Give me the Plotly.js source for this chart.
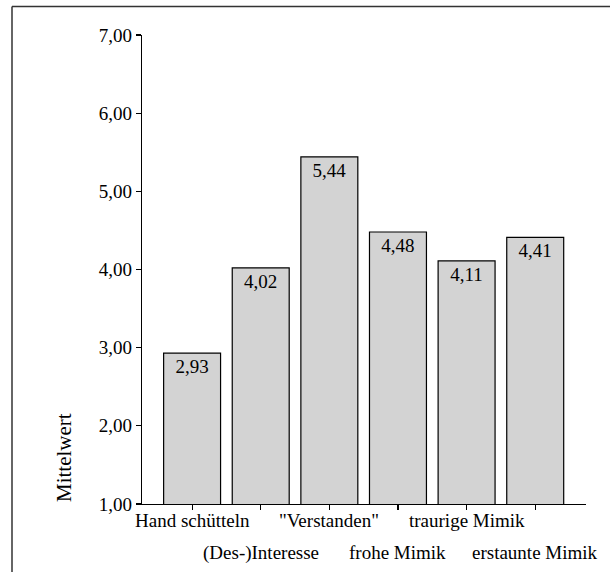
<!DOCTYPE html>
<html>
<head>
<meta charset="utf-8">
<script src="https://cdn.plot.ly/plotly-3.0.1.min.js"></script>
<style>body{margin:0;padding:0;background:#fff;overflow:hidden;} #chart{width:614px;height:576px;}</style>
</head>
<body>
<div id="chart"></div>
<script>
var categories = ["Hand schütteln", "(Des-)Interesse", "\"Verstanden\"", "frohe Mimik", "traurige Mimik", "erstaunte Mimik"];
var values = [2.93, 4.02, 5.44, 4.48, 4.11, 4.41];
var labelRow = [0, 1, 0, 1, 0, 1];
var yTicks = [1, 2, 3, 4, 5, 6, 7];
var yTitle = "Mittelwert";

var FONT = "Liberation Serif";

var trace = {
  type: "bar",
  x: categories,
  y: values,
  width: 0.83,
  marker: {color: "#d3d3d3", line: {color: "#000", width: 1.2}},
  texttemplate: "%{y:.2f}",
  textposition: "inside",
  insidetextanchor: "end",
  constraintext: "none",
  textangle: 0,
  insidetextfont: {family: FONT, size: 19, color: "#000"},
  hoverinfo: "none"
};

var annotations = categories.map(function (c, i) {
  return {
    x: c, xref: "x", yref: "paper",
    y: labelRow[i] === 0 ? -0.036 : -0.104,
    yanchor: "middle", xanchor: "center",
    text: c, showarrow: false,
    font: {family: FONT, size: 19, color: "#000"}
  };
});
annotations.push({
  xref: "paper", yref: "paper",
  x: (64 - 142) / 444, y: (504 - 458) / 469,
  xanchor: "center", yanchor: "middle",
  text: yTitle, textangle: -90, showarrow: false,
  font: {family: FONT, size: 21, color: "#000"}
});

var layout = {
  width: 614, height: 576,
  margin: {l: 142, r: 28, t: 35, b: 72},
  paper_bgcolor: "#fff", plot_bgcolor: "#fff",
  separators: ",.",
  showlegend: false,
  font: {family: FONT, color: "#000"},
  xaxis: {
    type: "category",
    range: [-0.73, 5.74],
    showline: true, linecolor: "#000", linewidth: 1.2,
    ticks: "outside", ticklen: 5, tickcolor: "#000", tickwidth: 1.2,
    showticklabels: false, showgrid: false, zeroline: false
  },
  yaxis: {
    range: [1, 7],
    tickvals: yTicks,
    tickformat: ".2f",
    showline: true, linecolor: "#000", linewidth: 1.2,
    ticks: "outside", ticklen: 5, tickcolor: "#000", tickwidth: 1.2,
    tickfont: {family: FONT, size: 19, color: "#000"},
    showgrid: false, zeroline: false
  },
  annotations: annotations,
  shapes: [
    {type: "line", xref: "paper", yref: "paper",
     x0: (12 - 142) / 444, x1: (610 - 142) / 444,
     y0: (504 - 6.5) / 469, y1: (504 - 6.5) / 469,
     line: {color: "#333", width: 1.5}, layer: "below"},
    {type: "line", xref: "paper", yref: "paper",
     x0: (12 - 142) / 444, x1: (12 - 142) / 444,
     y0: (504 - 6.5) / 469, y1: (504 - 572) / 469,
     line: {color: "#333", width: 1.5}, layer: "below"}
  ]
};

Plotly.newPlot("chart", [trace], layout, {staticPlot: true, displayModeBar: false});
</script>
</body>
</html>
